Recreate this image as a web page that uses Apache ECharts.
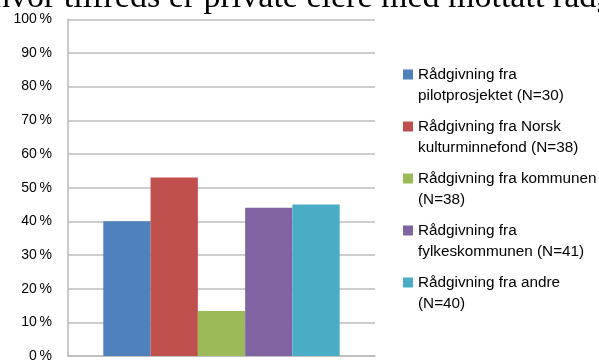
<!DOCTYPE html>
<html>
<head>
<meta charset="utf-8">
<script src="https://cdn.jsdelivr.net/npm/echarts@6/dist/echarts.min.js"></script>
<style>
    html, body { margin: 0; padding: 0; background: #fff; }
</style>
</head>
<body>
<div style="width:599px;height:363px;" id="raadgivning_chart"></div>
<script>
// kategorier (serier) og verdier lest av figuren
const seriesNames = [
    'Rådgivning fra\npilotprosjektet (N=30)',
    'Rådgivning fra Norsk\nkulturminnefond (N=38)',
    'Rådgivning fra kommunen\n(N=38)',
    'Rådgivning fra\nfylkeskommunen (N=41)',
    'Rådgivning fra andre\n(N=40)'
];
const seriesValues = [40, 53, 13.4, 44, 45];
const categories = [''];
const yMin = 0;
const yMax = 100;
const yStep = 10;
const headline = 'hvor tilfreds er private eiere med mottatt rådgivning';

const palette = ['#4f81bd', '#c0504d', '#9bbb59', '#8064a2', '#4bacc6'];

var chart = echarts.init(document.getElementById('raadgivning_chart'), null, {renderer: 'canvas'});

const series = seriesNames.map(function (name, i) {
    return {
        name: name,
        type: 'bar',
        barGap: 0,
        barCategoryGap: '23%',
        itemStyle: {
            color: palette[i]
        },
        data: [seriesValues[i]]
    };
});

const option = {
    animation: false,
    grid: {
        left: 68,
        right: 224,
        top: 19.3,
        bottom: 5.3,
        containLabel: false
    },
    // avkuttet overskrift fra dokumentet over figuren
    graphic: [{
        type: 'text',
        left: -7,
        top: -19,
        style: {
            text: headline,
            font: '34px "Liberation Serif", "Times New Roman", serif',
            fill: '#000'
        }
    }],
    legend: {
        orient: 'vertical',
        left: 403,
        top: 64,
        padding: 0,
        itemGap: 9,
        itemWidth: 10,
        itemHeight: 32,
        // kvadrat øverst i ikonboksen, slik at det står ved første tekstlinje
        icon: 'path://M0,0h10v10h-10zM0,32',
        selectedMode: false,
        textStyle: {
            fontFamily: '"Liberation Sans", Arial, sans-serif',
            fontSize: 15.3,
            lineHeight: 21.5,
            color: '#000'
        },
        data: seriesNames
    },
    xAxis: {
        type: 'category',
        data: categories,
        axisLine: {
            lineStyle: { color: '#bcbcbc', width: 1.6 }
        },
        axisTick: { show: false },
        axisLabel: { show: false }
    },
    yAxis: {
        type: 'value',
        min: yMin,
        max: yMax,
        interval: yStep,
        axisLine: {
            show: true,
            lineStyle: { color: '#bcbcbc', width: 1.6 }
        },
        axisTick: { show: false },
        splitLine: {
            show: true,
            lineStyle: { color: '#bcbcbc', width: 1.6 }
        },
        axisLabel: {
            margin: 16,
            fontFamily: '"Liberation Sans", Arial, sans-serif',
            fontSize: 14,
            color: '#000',
            formatter: function (value) {
                return value + '\u202f%';
            }
        }
    },
    series: series
};

chart.setOption(option);
</script>
</body>
</html>
